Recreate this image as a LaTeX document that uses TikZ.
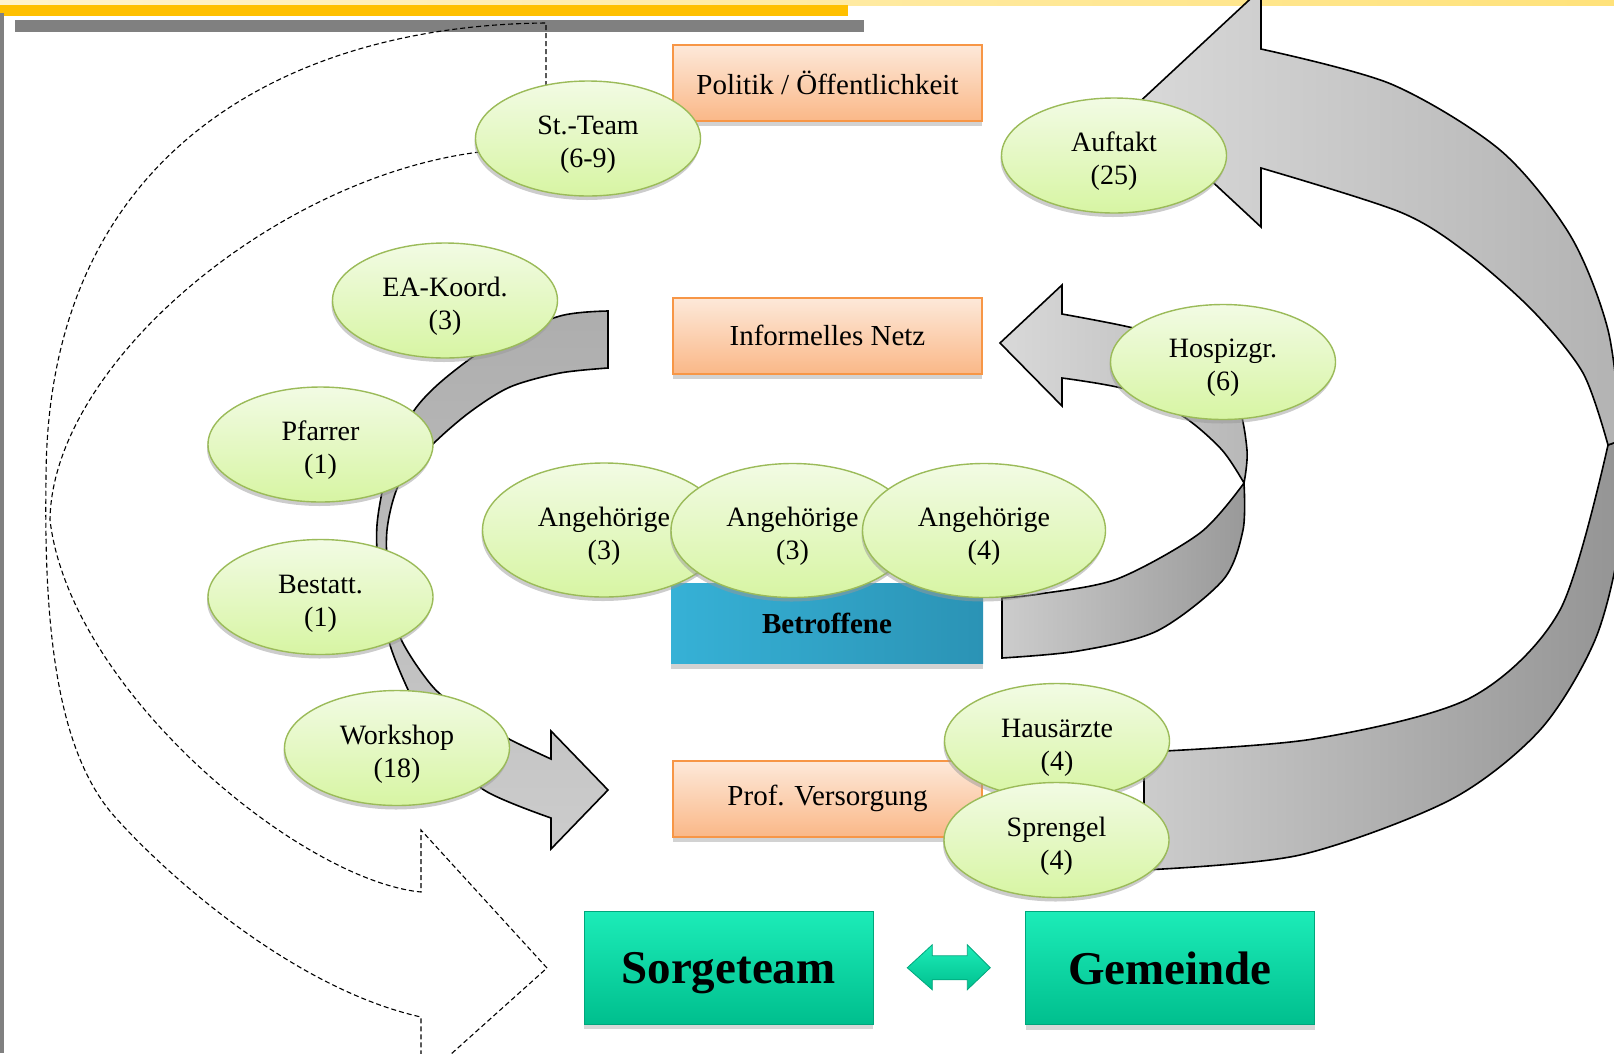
\documentclass[tikz,border=0pt]{standalone}
\usepackage{fontspec}
\setmainfont{Liberation Serif}
\usetikzlibrary{arrows, calc, shapes.geometric, shadows}
\tikzset{
    %Define standard arrow tip
    >=stealth',
}
\definecolor{ovalline}{HTML}{9BBB59}
\definecolor{ovaltop}{HTML}{F2FBE4}
\definecolor{ovalbot}{HTML}{D7F5A3}
\definecolor{fieldline}{HTML}{F79646}
\definecolor{fieldtop}{HTML}{FDE9DA}
\definecolor{fieldbot}{HTML}{FAB888}
\definecolor{coreleft}{HTML}{36B1D6}
\definecolor{coreright}{HTML}{2B93B5}
\definecolor{teamtop}{HTML}{1CECB8}
\definecolor{teambot}{HTML}{00BF8E}
\definecolor{teamline}{HTML}{00A67C}
\definecolor{headyellow}{HTML}{FFC000}
\definecolor{headpale}{HTML}{FFF3CC}
\definecolor{headgold}{HTML}{FFE27A}
\definecolor{headgray}{HTML}{808080}
% two centred lines, set a little below the middle of the oval
\newcommand{\ovaltext}[2]{\rule{0pt}{51pt}\begin{tabular}{@{}c@{}}#1\\#2\end{tabular}}

\begin{document}
\begin{tikzpicture}[
    x=1pt, y=-1pt,
    oval/.style = {ellipse, draw=ovalline, line width=1.4pt,
                   top color=ovaltop, bottom color=ovalbot,
                   minimum width=225pt, minimum height=115pt, inner sep=0pt,
                   font=\fontsize{28}{33}\selectfont,
                   drop shadow={shadow xshift=-1pt, shadow yshift=-4pt, fill=black!40}},
    bigoval/.style = {oval, minimum width=243pt, minimum height=134pt},
    field/.style = {draw=fieldline, line width=2pt,
                    top color=fieldtop, bottom color=fieldbot,
                    minimum width=309pt, minimum height=76pt,
                    font=\fontsize{29}{32}\selectfont,
                    drop shadow={shadow xshift=0pt, shadow yshift=-5pt, fill=black!35}},
    core/.style = {left color=coreleft, right color=coreright,
                   minimum width=312pt, minimum height=80pt,
                   font=\fontsize{29}{32}\selectfont\bfseries,
                   drop shadow={shadow xshift=0pt, shadow yshift=-6pt, fill=black!35}},
    team/.style = {draw=teamline, line width=1pt,
                   top color=teamtop, bottom color=teambot,
                   minimum width=289pt, minimum height=113pt,
                   text height=32pt, text depth=0pt,
                   font=\fontsize{47}{50}\selectfont\bfseries,
                   drop shadow={shadow xshift=0pt, shadow yshift=-5pt, fill=black!30}},
    band/.style = {draw=black, line width=1.6pt},
    dashband/.style = {draw=black, line width=1.1pt, dash pattern=on 5pt off 3pt},
    dbl/.style = {draw=teamline, line width=0.8pt, top color=teamtop, bottom color=teambot},
  ]
  \useasboundingbox (0,0) rectangle (1614,1053);
  \clip (0,0) rectangle (1614,1053);

  % header
  \fill[left color=headpale, right color=headgold] (0,0) rectangle (1614,5);
  \fill[headyellow] (0,5) rectangle (848,16);
  \fill[headgray] (15,19.5) rectangle (864,32);
  \fill[headgray] (0,13) rectangle (3.5,1053);

  % dashed outer loop
  \draw[dashband] (546,110) -- (546,23)
    .. controls (290,25) and (46,150) .. (46,480)
    .. controls (44,620) and (55,750) .. (115,817)
    .. controls (175,884) and (300,990) .. (421,1017)
    -- (421,1081) -- (547,968) -- (421,830) -- (421,892)
    .. controls (300,880) and (70,690) .. (50,520)
    .. controls (52,360) and (290,165) .. (500,150);

  % left loop
  \draw[band, top color=black!32, bottom color=black!20] (608,311)
    -- plot[smooth] coordinates {(608,311) (560,316) (493,344) (443,380) (413,412) (390,460)
       (377,525) (380,590) (390,645) (413,700) (440,745) (484,790) (551,818)}
    -- (551,849) -- (608,790) -- (551,731) -- (551,759)
    -- plot[smooth] coordinates {(551,759) (509,739) (470,716) (433,687) (400,637) (389,585)
       (387,530) (400,482) (433,444) (470,412) (510,387) (560,373) (608,368)}
    -- cycle;

  % Hospiz loop
  \draw[band, left color=black!20, right color=black!40] (1244,483)
    -- plot[smooth] coordinates {(1244,483) (1243,530) (1223,580) (1157,631) (1078,651) (1002,658)}
    -- (1002,598)
    -- plot[smooth] coordinates {(1002,598) (1039,594) (1117,579) (1200,533) (1244,483)}
    -- cycle;
  \draw[band, left color=black!15, right color=black!28] (1000,343) -- (1062,285) -- (1062,314)
    -- plot[smooth] coordinates {(1062,314) (1129,327) (1195,345) (1236,400) (1247,450) (1244,483)}
    -- plot[smooth] coordinates {(1244,483) (1222,450) (1184,417) (1129,390) (1062,378)}
    -- (1062,406) -- cycle;

  % big right loop
  \draw[band, left color=black!20, right color=black!42] (1622,440)
    -- plot[smooth] coordinates {(1622,440) (1620,540) (1595,640) (1540,730) (1450,800)
       (1300,855) (1144,870)}
    -- (1144,752)
    -- plot[smooth] coordinates {(1144,752) (1313,739) (1470,698) (1560,610) (1608,445)}
    -- cycle;
  \draw[band, left color=black!15, right color=black!30] (1133,108) -- (1261,-11) -- (1261,49)
    -- plot[smooth] coordinates {(1261,49) (1391,84) (1500,150) (1570,235) (1608,330) (1622,440)}
    -- (1608,445)
    -- plot[smooth] coordinates {(1608,445) (1583,373) (1533,311) (1467,253) (1400,212) (1261,168)}
    -- (1261,227) -- cycle;

  \node[field] (politik) at (827.5,82.5) {Politik / Öffentlichkeit};
  \node[field] (netz) at (827.5,335.5) {Informelles Netz};
  \node[field] (versorg) at (827.5,798.5) {Prof. Versorgung};
  \node[core] (betroff) at (827,623) {Betroffene};

  \node[team] (sorge) at (728.5,967.5) {Sorgeteam};
  \node[team] (gemeinde) at (1170,968) {Gemeinde};
  \coordinate (mid) at ($(sorge.east)!0.5!(gemeinde.west)$);
  \draw[dbl, shift={(mid)}] (-42,0) -- (-17,-23) -- (-17,-12) -- (18,-12) -- (18,-23)
    -- (41,0) -- (18,22) -- (18,12) -- (-17,12) -- (-17,22) -- cycle;

  \node[oval] (stteam) at (588,138.5) {\ovaltext{St.-Team}{(6-9)}};
  \node[oval] (auftakt) at (1114,155.5) {\ovaltext{Auftakt}{(25)}};
  \node[oval] (eakoord) at (445,300.5) {\ovaltext{EA-Koord.}{(3)}};
  \node[oval] (hospiz) at (1223,362) {\ovaltext{Hospizgr.}{(6)}};
  \node[oval] (pfarrer) at (320.5,444.5) {\ovaltext{Pfarrer}{(1)}};
  \node[oval] (bestatt) at (320.5,597) {\ovaltext{Bestatt.}{(1)}};
  \node[bigoval] (ang1) at (604,530) {\ovaltext{Angehörige}{(3)}};
  \node[bigoval] (ang2) at (792.5,530.5) {\ovaltext{Angehörige}{(3)}};
  \node[bigoval] (ang3) at (984,530.5) {\ovaltext{Angehörige}{(4)}};
  \node[oval] (workshop) at (397,748) {\ovaltext{Workshop}{(18)}};
  \node[oval] (arzt) at (1057,741) {\ovaltext{Hausärzte}{(4)}};
  \node[oval] (sprengel) at (1056.5,840) {\ovaltext{Sprengel}{(4)}};
\end{tikzpicture}
\end{document}
